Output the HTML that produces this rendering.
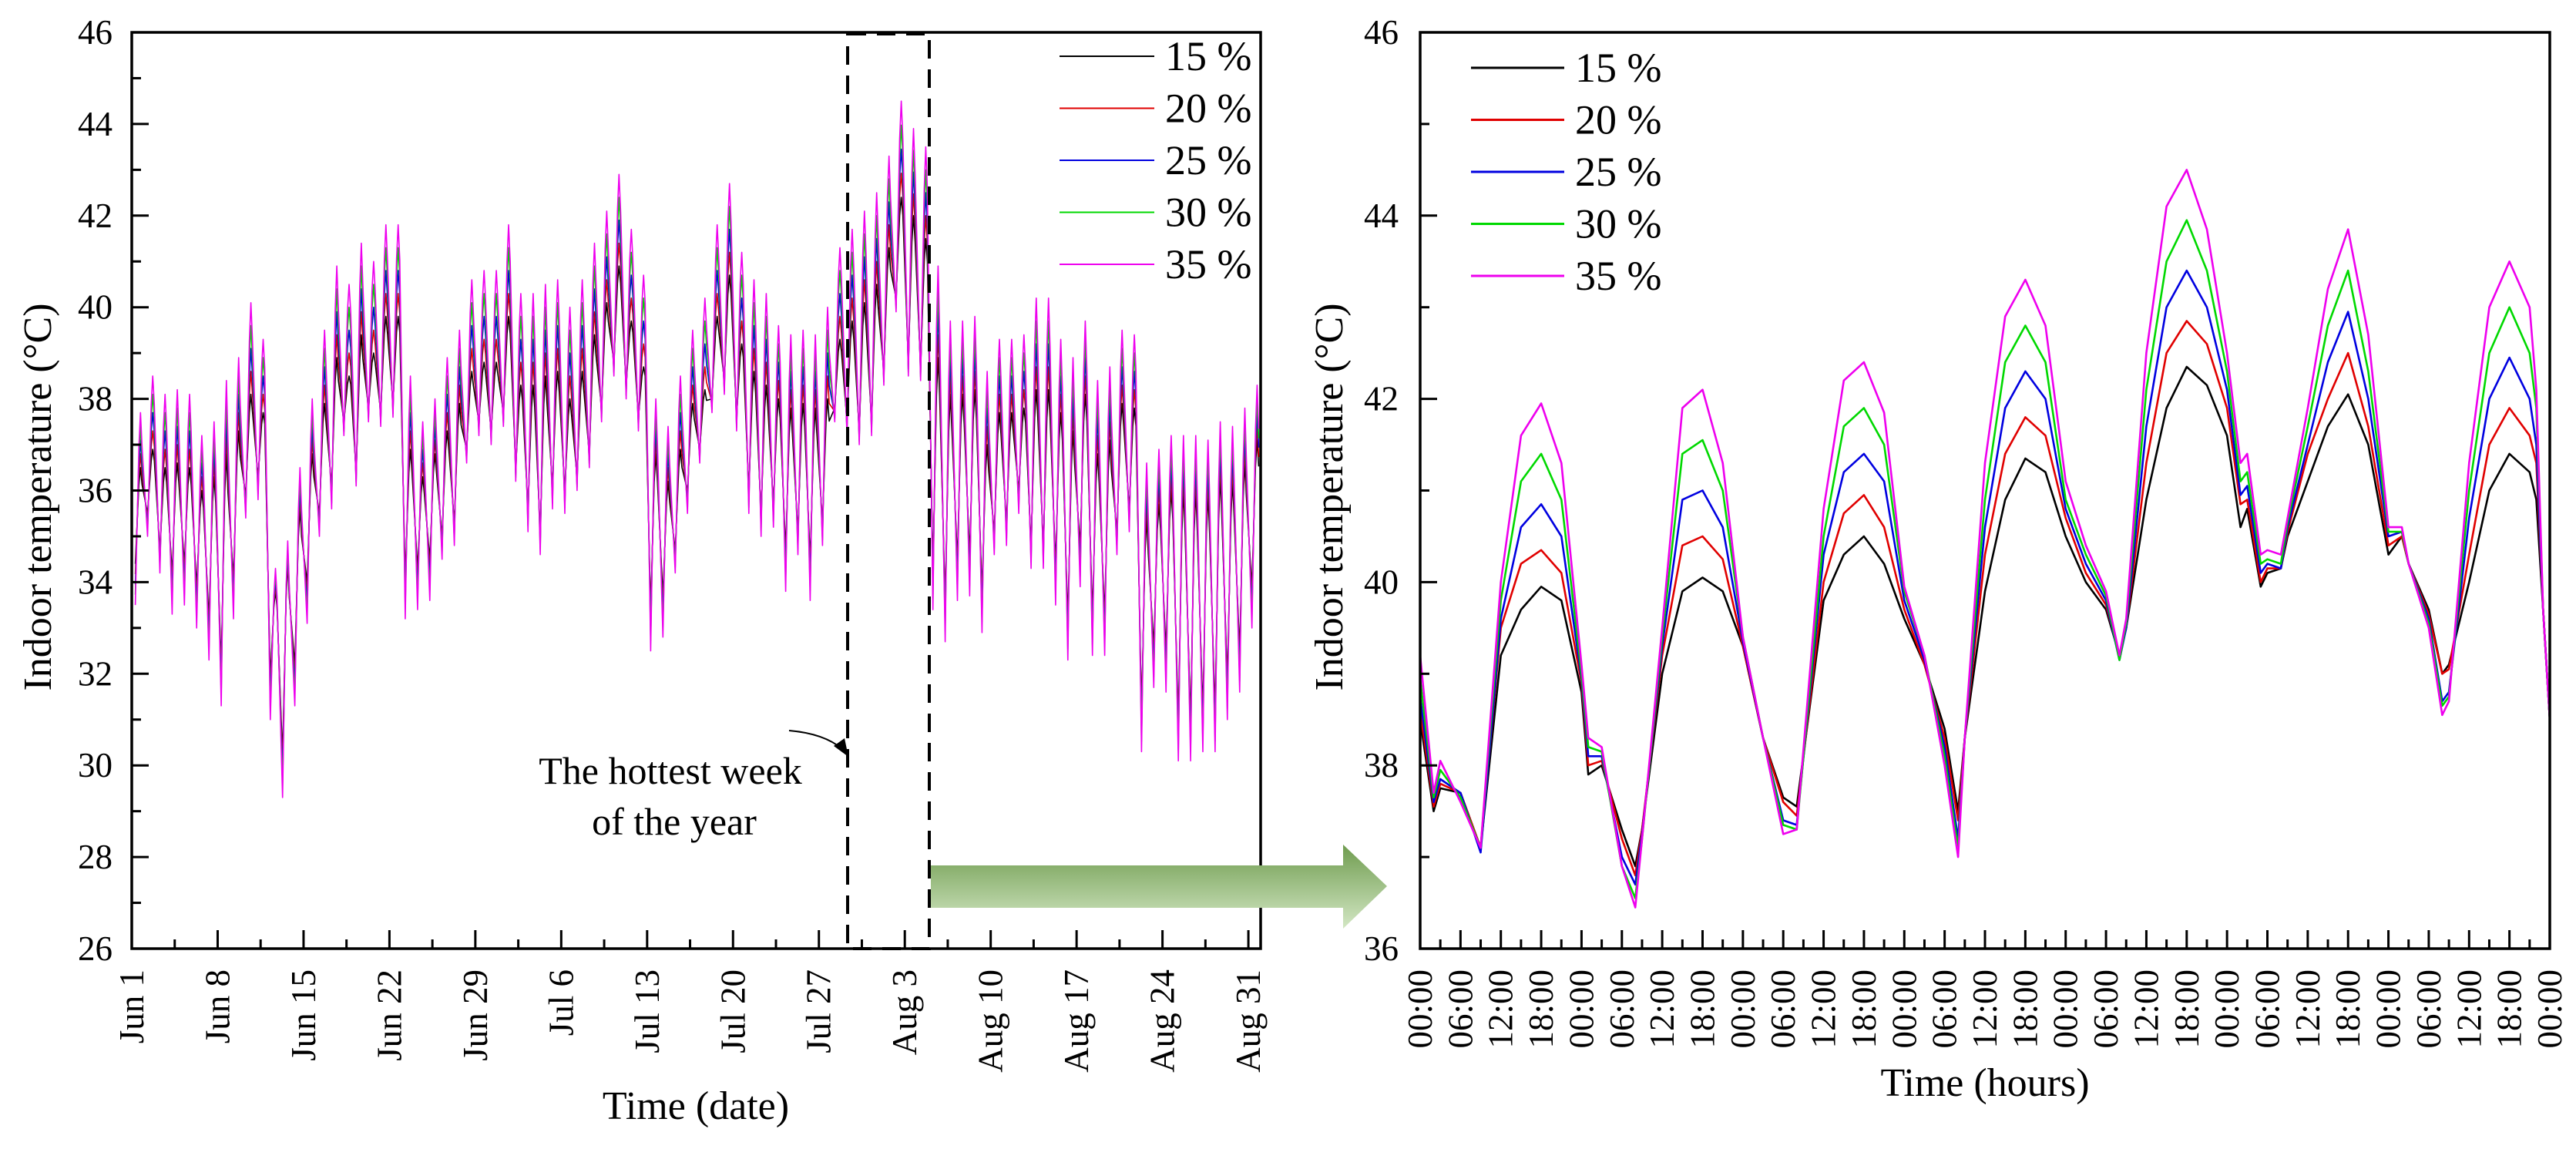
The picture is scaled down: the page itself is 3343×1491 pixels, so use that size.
<!DOCTYPE html>
<html><head><meta charset="utf-8"><style>
html,body{margin:0;padding:0;background:#fff;}
svg{display:block;font-family:"Liberation Serif",serif;}
</style></head><body>
<svg id="fig" width="3343" height="1491" viewBox="0 0 3343 1491" xmlns="http://www.w3.org/2000/svg">
<defs>
<linearGradient id="arrowGrad" x1="0" y1="0" x2="0" y2="1">
<stop offset="0" stop-color="#6f9c4f"/><stop offset="1" stop-color="#d3e7c4"/>
</linearGradient>
</defs>
<g id="left"></g>
<g id="right"></g>
</svg>
<script>
// ---------- Left chart data (daily, Jun 1 - Aug 31) ----------
const dateLabels = ["Jun 1","Jun 8","Jun 15","Jun 22","Jun 29","Jul 6","Jul 13","Jul 20","Jul 27","Aug 3","Aug 10","Aug 17","Aug 24","Aug 31"];
const peak35 = [37.7,38.5,38.1,38.2,38.1,37.2,37.5,38.4,38.9,40.1,39.3,34.3,34.9,36.5,38.0,39.5,40.9,40.5,41.4,41.0,41.8,41.8,38.5,37.5,38.0,38.9,39.5,40.6,40.8,40.8,41.8,40.3,40.3,40.5,40.6,40.0,40.6,41.4,42.1,42.9,41.7,40.7,38.0,37.4,38.5,39.5,40.2,41.8,42.7,41.2,40.6,40.3,39.6,39.4,39.5,39.4,40.0,41.3,41.7,42.1,42.5,43.3,44.5,43.9,43.5,40.9,39.7,39.7,39.8,38.6,39.3,39.3,39.4,40.2,40.2,39.3,38.9,39.7,38.4,38.7,39.5,39.4,36.6,36.9,37.2,37.2,37.2,37.1,37.5,37.4,37.8,38.3];
const peak15 = [36.5,36.9,36.5,36.6,36.5,36.0,36.3,36.8,37.3,38.1,37.7,33.8,34.4,35.6,36.8,37.9,38.9,38.5,39.4,39.0,39.8,39.8,36.9,36.3,36.8,37.3,37.9,38.6,38.8,38.8,39.8,38.3,38.3,38.5,38.6,38.0,38.6,39.4,40.1,40.9,39.7,38.7,36.8,36.2,36.9,37.9,38.2,39.8,40.7,39.2,38.6,38.3,38.0,37.8,37.9,37.8,38.0,39.3,39.7,40.1,40.5,41.3,42.4,42.0,41.5,38.9,38.1,38.1,38.2,37.0,37.7,37.7,37.8,38.2,38.2,37.7,37.3,38.1,36.8,37.1,37.9,37.8,35.4,35.7,36.0,36.0,36.0,35.9,36.3,36.2,36.6,37.1];
const trough35 = [33.5,35.0,34.2,33.3,33.5,33.0,32.3,31.3,33.2,35.4,35.8,31.0,29.3,31.3,33.1,35.0,35.6,37.2,36.1,37.5,37.4,37.6,33.2,33.4,33.6,34.5,34.8,36.6,37.2,37.0,37.4,36.2,35.1,34.6,35.6,35.5,36.0,36.5,37.5,38.5,38.0,37.3,32.5,32.8,34.2,35.5,36.6,37.7,38.1,37.3,35.5,35.0,35.2,33.8,34.6,33.6,34.8,37.5,37.2,37.0,37.2,38.3,39.9,38.5,38.4,33.4,32.7,33.6,33.7,32.9,34.6,34.8,35.5,34.3,34.3,33.5,32.3,33.9,32.4,32.4,34.6,35.1,30.3,31.7,31.6,30.1,30.1,30.3,30.3,31.0,31.6,33.0];
const trough15 = [34.4,35.5,34.7,34.2,34.4,33.9,33.2,32.2,34.1,35.9,36.3,31.9,30.2,32.2,34.0,35.5,36.1,37.5,36.4,37.8,37.7,37.9,34.1,34.3,34.5,35.0,35.3,36.9,37.5,37.3,37.7,36.5,35.6,35.1,36.1,36.0,36.3,36.8,37.8,38.8,38.3,37.6,33.4,33.7,34.7,36.0,36.9,38.0,38.4,37.6,36.0,35.5,35.7,34.7,35.1,34.5,35.3,37.8,37.5,37.3,37.5,38.6,40.2,38.8,38.7,34.3,33.6,34.5,34.6,33.8,35.1,35.3,36.0,34.8,34.8,34.4,33.2,34.8,33.3,33.3,35.1,35.6,31.2,32.6,32.5,31.0,31.0,31.2,31.2,31.9,32.5,33.9];
const seriesNames = ["15 %","20 %","25 %","30 %","35 %"];
const seriesColors = ["#000000","#e00000","#0000e0","#00d800","#ee00ee"];
const yTicksLeft = [26,28,30,32,34,36,38,40,42,44,46];

// ---------- Right chart data (hottest week, hourly) ----------
const hourLabels = ["00:00","06:00","12:00","18:00"];
const yTicksRight = [36,38,40,42,44,46];
const hours = [0,2,3,6,9,12,15,18,21,24,25,27,30,32,33,36,39,42,45,48,51,54,56,60,63,66,69,72,75,78,80,81,84,87,90,93,96,99,102,104,105,108,111,114,117,120,122,123,125,126,128,129,132,135,138,141,144,146,147,150,152,153,156,159,162,165,166,167,168];
const week15 = [38.5,37.5,37.75,37.7,37.1,39.2,39.7,39.95,39.8,38.8,37.9,38.0,37.3,36.9,37.3,39.0,39.9,40.05,39.9,39.3,38.3,37.65,37.55,39.8,40.3,40.5,40.2,39.6,39.1,38.4,37.5,38.3,39.9,40.9,41.35,41.2,40.5,40.0,39.7,39.2,39.5,40.9,41.9,42.35,42.15,41.6,40.6,40.8,39.95,40.1,40.15,40.5,41.1,41.7,42.05,41.5,40.3,40.5,40.2,39.7,39.0,39.1,40.0,41.0,41.4,41.2,40.9,39.7,38.5];
const week20 = [38.6,37.55,37.8,37.7,37.1,39.5,40.2,40.35,40.1,38.9,38.0,38.05,37.2,36.8,37.3,39.2,40.4,40.5,40.25,39.3,38.3,37.6,37.45,40.0,40.75,40.95,40.6,39.7,39.1,38.3,37.4,38.3,40.3,41.4,41.8,41.6,40.7,40.1,39.75,39.2,39.5,41.3,42.5,42.85,42.6,41.9,40.85,40.9,40.0,40.15,40.15,40.55,41.4,42.0,42.5,41.7,40.4,40.5,40.2,39.65,39.0,39.05,40.3,41.5,41.9,41.6,41.3,39.7,38.5];
const week25 = [38.75,37.6,37.85,37.7,37.05,39.6,40.6,40.85,40.5,38.95,38.1,38.1,37.0,36.7,37.25,39.3,40.9,41.0,40.6,39.35,38.3,37.4,37.35,40.3,41.2,41.4,41.1,39.8,39.15,38.2,37.2,38.3,40.6,41.9,42.3,42.0,40.8,40.2,39.8,39.15,39.5,41.7,43.0,43.4,43.0,42.1,40.95,41.05,40.1,40.2,40.15,40.6,41.5,42.4,42.95,42.0,40.5,40.55,40.2,39.6,38.7,38.8,40.7,42.0,42.45,42.0,41.5,39.7,38.5];
const week30 = [38.95,37.65,37.95,37.65,37.1,39.8,41.1,41.4,40.9,39.0,38.2,38.15,36.9,36.55,37.2,39.4,41.4,41.55,41.0,39.4,38.3,37.35,37.3,40.5,41.7,41.9,41.5,39.9,39.2,38.1,37.1,38.3,40.9,42.4,42.8,42.4,40.9,40.3,39.85,39.15,39.55,42.1,43.5,43.95,43.4,42.3,41.1,41.2,40.2,40.25,40.2,40.65,41.7,42.8,43.4,42.3,40.55,40.55,40.2,39.55,38.65,38.75,41.0,42.5,43.0,42.5,41.9,39.7,38.5];
const week35 = [39.2,37.7,38.05,37.6,37.1,40.0,41.6,41.95,41.3,39.1,38.3,38.2,36.9,36.45,37.2,39.5,41.9,42.1,41.3,39.4,38.3,37.25,37.3,40.8,42.2,42.4,41.85,39.95,39.2,38.0,37.0,38.3,41.3,42.9,43.3,42.8,41.1,40.4,39.9,39.2,39.6,42.5,44.1,44.5,43.85,42.5,41.3,41.4,40.3,40.35,40.3,40.7,41.9,43.2,43.85,42.7,40.6,40.6,40.2,39.5,38.55,38.7,41.3,43.0,43.5,43.0,42.1,39.7,38.5];

const NS = "http://www.w3.org/2000/svg";
function mk(tag, attrs, parent, text) {
  const e = document.createElementNS(NS, tag);
  for (const k in attrs) e.setAttribute(k, attrs[k]);
  if (text !== undefined) e.textContent = text;
  parent.appendChild(e);
  return e;
}

// ---------- LEFT ----------
(function(){
  const g = document.getElementById('left');
  const L = 171, R = 1636, T = 42, B = 1231;
  const nDays = 92;
  const xs = d => L + d * (R - L) / nDays;
  const ys = v => B - (v - 26) * (B - T) / 20;

  [0,1,2,3,4].forEach(k => {
    const f = k / 4;
    let pts = [];
    for (let d = 0; d < peak35.length; d++) {
      const tr = trough15[d] + (trough35[d] - trough15[d]) * f;
      const pk = peak15[d] + (peak35[d] - peak15[d]) * f;
      const sh = pk - 0.18 * (pk - tr);
      pts.push(xs(d + 0.29).toFixed(1) + "," + ys(tr).toFixed(1));
      pts.push(xs(d + 0.58).toFixed(1) + "," + ys(sh).toFixed(1));
      pts.push(xs(d + 0.71).toFixed(1) + "," + ys(pk).toFixed(1));
      pts.push(xs(d + 0.84).toFixed(1) + "," + ys(sh).toFixed(1));
    }
    const pl = mk('polyline', {points: pts.join(' '), fill:'none', stroke: seriesColors[k], 'stroke-width': 1.6, 'stroke-linejoin':'round'}, g);
    
    
  });

  const fr = mk('rect', {x:L, y:T, width:R-L, height:B-T, fill:'none', stroke:'#000', 'stroke-width':3.5}, g);
  
  

  for (let v = 26; v <= 46; v++) {
    const major = v % 2 === 0;
    mk('line', {x1:L, x2:L + (major ? 22 : 12), y1:ys(v), y2:ys(v), stroke:'#000', 'stroke-width':3}, g);
  }
  yTicksLeft.forEach(v => {
    const t = mk('text', {x:146, y:ys(v) + 15, 'text-anchor':'end', 'font-size':45}, g, String(v));
    
    
  });
  for (let d = 0; d <= 91; d += 3.5) {
    const major = (d % 7) === 0;
    mk('line', {x1:xs(d), x2:xs(d), y1:B, y2:B - (major ? 24 : 12), stroke:'#000', 'stroke-width':3}, g);
  }
  dateLabels.forEach((lab, i) => {
    const x = xs(i * 7);
    const t = mk('text', {x:0, y:0, 'text-anchor':'end', 'font-size':45, transform:`translate(${x + 15},1258) rotate(-90)`}, g, lab);
    
    
  });
  const yt = mk('text', {x:0, y:0, 'text-anchor':'middle', 'font-size':52, transform:'translate(66,645) rotate(-90)'}, g, 'Indoor temperature (°C)');
  
  
  const xt = mk('text', {x:903, y:1452, 'text-anchor':'middle', 'font-size':52}, g, 'Time (date)');
  
  

  seriesNames.forEach((n, k) => {
    const y = 73 + k * 67.5;
    const ln = mk('line', {x1:1375, x2:1498, y1:y, y2:y, stroke:seriesColors[k], 'stroke-width':2}, g);
    
    
    const t = mk('text', {x:1512, y:y + 18, 'font-size':54}, g, n);
    
    
  });

  const box = mk('rect', {x:1100, y:44, width:106, height:B-44, fill:'none', stroke:'#000', 'stroke-width':4, 'stroke-dasharray':'24 14'}, g);
  
  
  const cur = mk('path', {d:'M1024,948 Q1070,952 1093,972', fill:'none', stroke:'#000', 'stroke-width':2}, g);
  
  
  mk('polygon', {points:'1101,982 1082,968 1096,958', fill:'#000'}, g);
  const a1 = mk('text', {x:870, y:1017, 'text-anchor':'middle', 'font-size':50}, g, 'The hottest week');
  
  
  const a2 = mk('text', {x:875, y:1083, 'text-anchor':'middle', 'font-size':50}, g, 'of the year');
  
  

  const ga = mk('polygon', {points:'1208,1123 1743,1123 1743,1096 1800,1150 1743,1205 1743,1178 1208,1178', fill:'url(#arrowGrad)'}, g);
  
  
})();

// ---------- RIGHT ----------
(function(){
  const g = document.getElementById('right');
  const L = 1843, R = 3309, T = 42, B = 1231;
  const xs = h => L + h * (R - L) / 168;
  const ys = v => B - (v - 36) * (B - T) / 10;
  const series = [week15, week20, week25, week30, week35];
  series.forEach((arr, k) => {
    const pts = arr.map((v, i) => xs(hours[i]).toFixed(1) + "," + ys(v).toFixed(1)).join(' ');
    const pl = mk('polyline', {points:pts, fill:'none', stroke:seriesColors[k], 'stroke-width':2.6, 'stroke-linejoin':'round'}, g);
    
    
  });
  const fr = mk('rect', {x:L, y:T, width:R-L, height:B-T, fill:'none', stroke:'#000', 'stroke-width':3.5}, g);
  
  
  for (let v = 36; v <= 46; v++) {
    const major = v % 2 === 0;
    mk('line', {x1:L, x2:L + (major ? 22 : 12), y1:ys(v), y2:ys(v), stroke:'#000', 'stroke-width':3}, g);
  }
  yTicksRight.forEach(v => {
    const t = mk('text', {x:1815, y:ys(v) + 15, 'text-anchor':'end', 'font-size':45}, g, String(v));
    
    
  });
  for (let h = 0; h <= 168; h += 3) {
    const major = h % 6 === 0;
    mk('line', {x1:xs(h), x2:xs(h), y1:B, y2:B - (major ? 24 : 12), stroke:'#000', 'stroke-width':3}, g);
  }
  for (let i = 0; i <= 28; i++) {
    const x = xs(i * 6);
    const t = mk('text', {x:0, y:0, 'text-anchor':'end', 'font-size':45, transform:`translate(${x + 15},1258) rotate(-90)`}, g, hourLabels[i % 4]);
    
    
  }
  const yt = mk('text', {x:0, y:0, 'text-anchor':'middle', 'font-size':52, transform:'translate(1742,645) rotate(-90)'}, g, 'Indoor temperature (°C)');
  
  
  const xt = mk('text', {x:2576, y:1422, 'text-anchor':'middle', 'font-size':52}, g, 'Time (hours)');
  
  
  seriesNames.forEach((n, k) => {
    const y = 88 + k * 67.5;
    const ln = mk('line', {x1:1909, x2:2030, y1:y, y2:y, stroke:seriesColors[k], 'stroke-width':3}, g);
    
    
    const t = mk('text', {x:2044, y:y + 18, 'font-size':54}, g, n);
    
    
  });
})();
</script>
</body></html>
